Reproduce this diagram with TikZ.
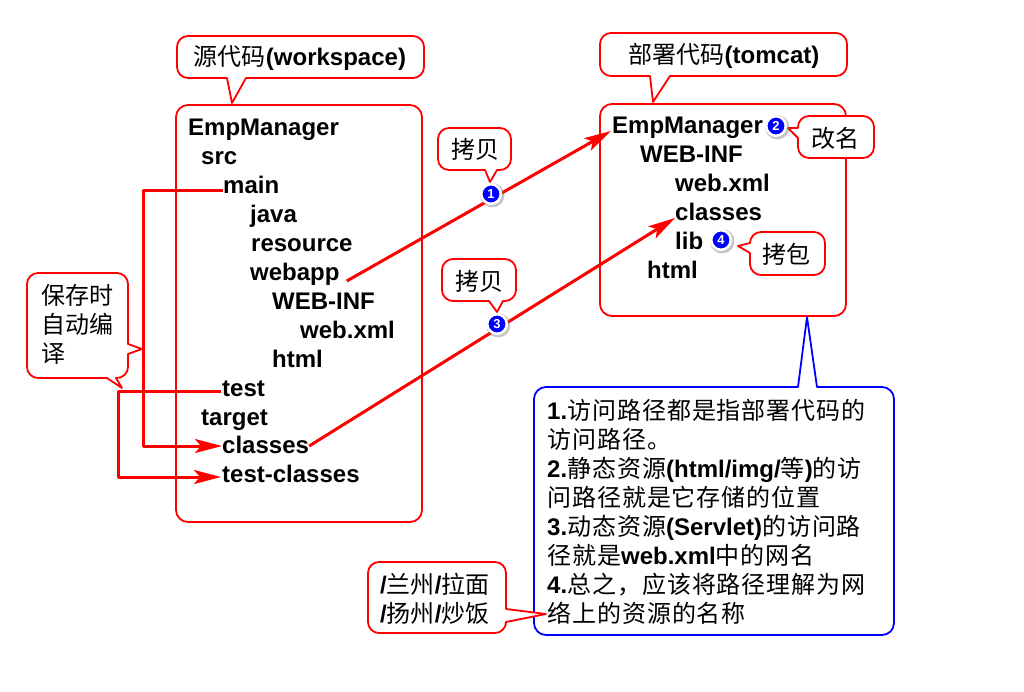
\documentclass[tikz,border=0pt]{standalone}
\usepackage{fontspec}
\setmainfont{Liberation Sans}[BoldFont={Liberation Sans Bold}]
\newfontfamily\cjk{Noto Sans CJK SC}
\newfontfamily\cjkw[LetterSpace=4]{Noto Sans CJK SC}
\newcommand{\cn}[1]{{\cjk\mdseries #1}}
\newcommand{\cw}[1]{{\cjkw\mdseries #1}}
\usetikzlibrary{arrows.meta,shadows}
\definecolor{rd}{RGB}{255,0,0}
\definecolor{bl}{RGB}{0,0,255}
\tikzset{
  panel/.style={draw=rd,line width=1.8pt,fill=white,line join=round},
  bluepanel/.style={draw=bl,line width=1.8pt,fill=white,line join=round},
  txt/.style={inner sep=0pt,anchor=base west,text height=13pt,text depth=5pt,font=\fontsize{24}{29}\selectfont\bfseries},
  lbl/.style={inner sep=0pt,font=\fontsize{24}{29}\selectfont\bfseries},
  para/.style={inner sep=0pt,align=left,font=\fontsize{24}{29}\selectfont\bfseries},
  link/.style={draw=rd,line width=3pt,line join=round},
  arrowed/.style={link,-{Stealth[length=27pt,width=14pt,inset=6pt,sep=0pt]}},
  badge/.style={circle,fill=bl,draw=white,line width=2.5pt,minimum size=19.5pt,inner sep=0pt,text=white,
    font=\fontsize{13}{13}\selectfont\bfseries,drop shadow={opacity=.45,shadow scale=1.25,shadow xshift=1pt,shadow yshift=-1pt}}
}
\begin{document}
\begin{tikzpicture}[x=1pt,y=-1pt]
\useasboundingbox (0,0) rectangle (1024,691);
\fill[white] (0,0) rectangle (1024,691);
% main panels
\draw[panel,rounded corners=12pt] (176,105) rectangle (422,522);
\draw[panel,rounded corners=12pt] (600,104) rectangle (846,316);
% callouts
\draw[panel] (246,78) [rounded corners=11pt] -- (424,78) -- (424,36) -- (177,36) -- (177,78) [sharp corners] -- (227,78) -- (232,103) -- cycle;
\draw[panel] (670,76) [rounded corners=11pt] -- (847,76) -- (847,33) -- (600,33) -- (600,76) [sharp corners] -- (650,76) -- (653,102) -- cycle;
\draw[panel] (497,170) [rounded corners=11pt] -- (511,170) -- (511,128) -- (438,128) -- (438,170) [sharp corners] -- (485,170) -- (490,182) -- cycle;
\draw[panel] (503,301) [rounded corners=11pt] -- (516,301) -- (516,259) -- (442,259) -- (442,301) [sharp corners] -- (489,301) -- (497,312) -- cycle;
\draw[panel] (798,138) [rounded corners=11pt] -- (798,158) -- (874,158) -- (874,116) -- (798,116) [sharp corners] -- (798,128) -- (788,128) -- cycle;
\draw[panel] (750,253) [rounded corners=11pt] -- (750,275) -- (825,275) -- (825,232) -- (750,232) [sharp corners] -- (750,243) -- (738,246) -- cycle;
\draw[panel] (128,344) [rounded corners=11pt] -- (128,273) -- (27,273) -- (27,378) [sharp corners] -- (107,378) -- (122,388) -- (116,378) [rounded corners=11pt] -- (128,378) [sharp corners] -- (128,354) -- (142,349) -- cycle;
\draw[bluepanel] (817,387) [rounded corners=12pt] -- (894,387) -- (894,635) -- (534,635) -- (534,387) [sharp corners] -- (798,387) -- (807,317) -- cycle;
\draw[panel] (506,609) [rounded corners=11pt] -- (506,562) -- (368,562) -- (368,633) -- (506,633) [sharp corners] -- (506,622) -- (546,614) -- cycle;
% callout texts
\node[lbl] (srcLabel) at (300,58) {\cn{源代码}(workspace)};
\node[lbl] (depLabel) at (724,56) {\cn{部署代码}(tomcat)};
\node[lbl] (copyA) at (475,149) {\cn{拷贝}};
\node[lbl] (copyB) at (479,281) {\cn{拷贝}};
\node[lbl] (renameL) at (835,138) {\cn{改名}};
\node[lbl] (copyLib) at (786,254) {\cn{拷包}};
\node[para,anchor=north west] (saveL) at (41,284) {\cn{保存时}\\\cn{自动编}\\\cn{译}};
\node[para,anchor=north west] (pathL) at (380,573) {/\cn{兰州}/\cn{拉面}\\/\cn{扬州}/\cn{炒饭}};
\node[para,anchor=north west] (notes) at (547,399) {1.\cw{访问路径都是指部署代码的}\\\cw{访问路径。}\\2.\cw{静态资源}(html/img/\cw{等})\cw{的访}\\\cw{问路径就是它存储的位置}\\3.\cw{动态资源}(Servlet)\cw{的访问路}\\\cw{径就是}web.xml\cw{中的网名}\\4.\cw{总之，应该将路径理解为网}\\\cw{络上的资源的名称}};
% left tree
\node[txt] (emL) at (188,135) {EmpManager};
\node[txt] (srcL) at (201,164) {src};
\node[txt] (mainL) at (223,193) {main};
\node[txt] (javaL) at (250,222) {java};
\node[txt] (resL) at (251,251) {resource};
\node[txt] (webappL) at (250,280) {webapp};
\node[txt] (wiL) at (272,309) {WEB-INF};
\node[txt] (wxL) at (300,338) {web.xml};
\node[txt] (htmlL) at (272,367) {html};
\node[txt] (testL) at (222,396) {test};
\node[txt] (targetL) at (201,425) {target};
\node[txt] (classesL) at (222,453) {classes};
\node[txt] (tcL) at (222,482) {test-classes};
% right tree
\node[txt] (emR) at (612,133) {EmpManager};
\node[txt] (wiR) at (640,162) {WEB-INF};
\node[txt] (wxR) at (675,191) {web.xml};
\node[txt] (classesR) at (675,220) {classes};
\node[txt] (libR) at (675,249) {lib};
\node[txt] (htmlR) at (647,278) {html};
% elbows
\coordinate (elbowA) at (143,190);
\coordinate (elbowB) at (118,391);
% connectors
\draw[arrowed] ([yshift=-1pt]mainL.west) -- (elbowA) |- ([yshift=3pt]classesL.west);
\draw[arrowed] ([xshift=-1pt,yshift=1pt]testL.west) -- (elbowB) |- ([xshift=-1pt,yshift=1pt]tcL.west);
\draw[arrowed] ([xshift=7pt,yshift=-5pt]webappL.east) -- ([xshift=-1pt,yshift=-2pt]emR.west);
\draw[arrowed] ([yshift=3pt]classesL.east) -- ([yshift=-2pt]classesR.west);
% badges
\node[badge] (b1) at (491,194) {1};
\node[badge] (b2) at (776,126) {2};
\node[badge] (b3) at (497,324) {3};
\node[badge] (b4) at (721,240) {4};
\end{tikzpicture}
\end{document}
